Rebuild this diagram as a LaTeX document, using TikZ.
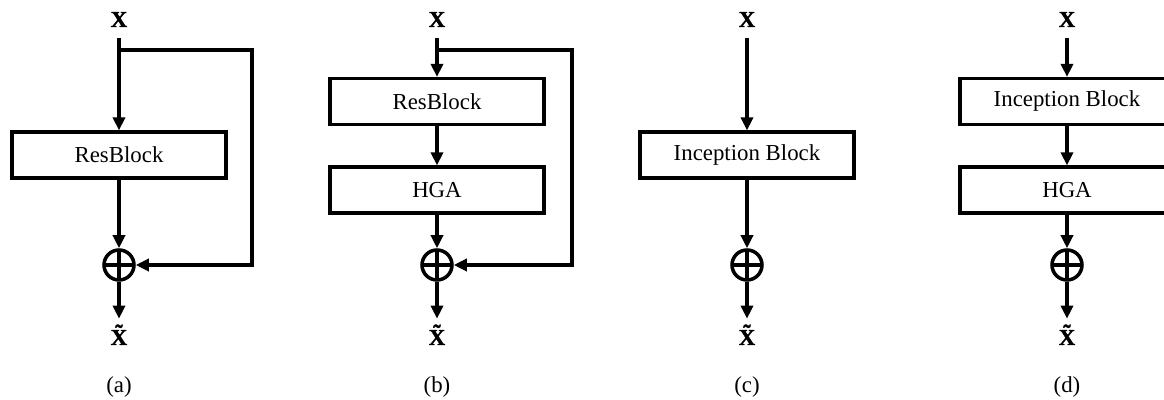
\documentclass[tikz,border=0pt]{standalone}
\usepackage{fontspec}
\setmainfont{Liberation Serif}[BoldFont={Liberation Serif Bold}, BoldFeatures={FakeBold=1.5}]
\usepackage{tikz}
\usetikzlibrary{arrows.meta, positioning, calc}
\newcommand{\tildeX}{\ooalign{X\cr\hidewidth\raisebox{0.2em}{\char"02DC}\hidewidth\cr}}

\begin{document}
\begin{tikzpicture}[
		blk/.style={draw, line width=1.8pt, minimum width=4.28cm, minimum height=0.92cm, inner sep=0pt, font=\fontsize{13}{15}\selectfont},
		sig/.style={inner xsep=0pt, inner ysep=0.22cm, font=\fontsize{13}{15}\selectfont\bfseries},
		sublbl/.style={inner sep=0pt, font=\fontsize{13}{15}\selectfont},
		addop/.style={circle, draw, line width=2pt, minimum size=0.6cm, inner sep=0pt,
			path picture={\draw[line width=2pt] (path picture bounding box.north) -- (path picture bounding box.south)
				(path picture bounding box.west) -- (path picture bounding box.east);}},
		wire/.style={line width=2.2pt},
		flow/.style={wire, -{Triangle[length=0.26cm, width=0.24cm]}}
	]
	\useasboundingbox (0,0) rectangle (23.28,8);
	% (a) residual block
	\node[sig, anchor=base] (xa) at (2.38,7.46) {X};
	\node[blk] (resa) at (2.38,4.9) {ResBlock};
	\node[addop] (adda) at (2.38,2.7) {};
	\node[sig, anchor=base] (ya) at (2.38,1.1) {\tildeX};
	\node[sublbl] (la) at (2.38,0.26) {(a)};
	\coordinate (ta) at (2.38,7.0);
	\coordinate (ra) at (5.04,7.0);
	\draw[flow] (xa) -- (resa);
	\draw[flow] (resa) -- (adda);
	\draw[flow] (adda) -- (ya);
	\draw[flow] (ta) -- (ra) |- (adda);
	% (b) residual block with HGA
	\node[sig, anchor=base] (xb) at (8.74,7.46) {X};
	\node[blk] (resb) at (8.74,5.97) {ResBlock};
	\node[blk] (hgab) at (8.74,4.2) {HGA};
	\node[addop] (addb) at (8.74,2.7) {};
	\node[sig, anchor=base] (yb) at (8.74,1.1) {\tildeX};
	\node[sublbl] (lb) at (8.74,0.26) {(b)};
	\coordinate (tb) at (8.74,7.0);
	\coordinate (rb) at (11.44,7.0);
	\draw[flow] (xb) -- (resb);
	\draw[flow] (resb) -- (hgab);
	\draw[flow] (hgab) -- (addb);
	\draw[flow] (addb) -- (yb);
	\draw[flow] (tb) -- (rb) |- (addb);
	% (c) inception block
	\node[sig, anchor=base] (xc) at (14.94,7.46) {X};
	\node[blk] (incc) at (14.94,4.9) {Inception Block};
	\node[addop] (addc) at (14.94,2.7) {};
	\node[sig, anchor=base] (yc) at (14.94,1.1) {\tildeX};
	\node[sublbl] (lc) at (14.94,0.26) {(c)};
	\draw[flow] (xc) -- (incc);
	\draw[flow] (incc) -- (addc);
	\draw[flow] (addc) -- (yc);
	% (d) inception block with HGA
	\node[sig, anchor=base] (xd) at (21.34,7.46) {X};
	\node[blk] (incd) at (21.34,5.97) {Inception Block};
	\node[blk] (hgad) at (21.34,4.2) {HGA};
	\node[addop] (addd) at (21.34,2.7) {};
	\node[sig, anchor=base] (yd) at (21.34,1.1) {\tildeX};
	\node[sublbl] (ld) at (21.34,0.26) {(d)};
	\draw[flow] (xd) -- (incd);
	\draw[flow] (incd) -- (hgad);
	\draw[flow] (hgad) -- (addd);
	\draw[flow] (addd) -- (yd);
\end{tikzpicture}
\end{document}
